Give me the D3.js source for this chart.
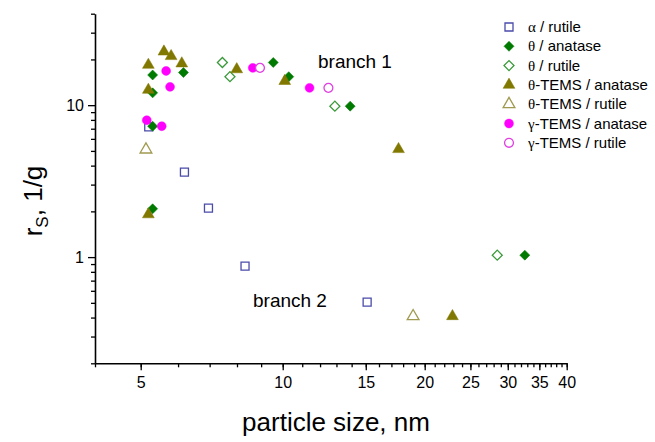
<!DOCTYPE html>
<html>
<head>
<meta charset="utf-8">
<style>
  body { margin: 0; background: #fff; }
  .chart text { font-family: "Liberation Sans", Arial, sans-serif; fill: #000; }
  .greek { font-family: "Liberation Serif", "DejaVu Serif", serif; }
</style>
</head>
<body>
<div class="chart"></div>
<script src="https://d3js.org/d3.v7.min.js"></script>
<script>
  // particle size (nm) / r_S (1/g)
  const alphaRutileX = [5.20, 6.19, 6.96, 8.32, 15.1];
  const alphaRutileY = [7.19, 3.63, 2.10, 0.872, 0.505];

  const thetaAnataseX = [5.30, 6.16, 5.30, 5.30, 9.55, 10.3, 5.30, 13.9, 32.6];
  const thetaAnataseY = [15.8, 16.4, 12.05, 7.27, 19.1, 15.4, 2.08, 9.85, 1.03];

  const thetaRutileX = [7.45, 7.73, 12.9, 28.5];
  const thetaRutileY = [19.1, 15.4, 9.85, 1.03];

  const temsAnataseX = [5.19, 5.60, 5.80, 6.11, 5.19, 7.99, 10.1, 17.6, 22.9, 5.19];
  const temsAnataseY = [18.4, 22.5, 21.0, 18.8, 12.6, 17.2, 14.4, 5.13, 0.408, 1.91];

  const temsRutileX = [5.13, 18.9];
  const temsRutileY = [5.1, 0.408];

  const gammaAnataseX = [5.66, 5.77, 5.15, 5.54, 8.64, 11.4];
  const gammaAnataseY = [16.8, 13.2, 7.96, 7.27, 17.6, 13.0];

  const gammaRutileX = [8.95, 12.5];
  const gammaRutileY = [17.6, 13.0];

  const xTickLabels = [5, 10, 15, 20, 25, 30, 35, 40];
  const yTickLabels = [1, 10];

  const series = [
    { greek: 'α', rest: ' / rutile', xs: alphaRutileX, ys: alphaRutileY, shape: 'square', color: '#4b4baa', filled: false },
    { greek: 'θ', rest: ' / anatase', xs: thetaAnataseX, ys: thetaAnataseY, shape: 'diamond', color: '#007a00', filled: true },
    { greek: 'θ', rest: ' / rutile', xs: thetaRutileX, ys: thetaRutileY, shape: 'diamond', color: '#3a9a3a', filled: false },
    { greek: 'θ', rest: '-TEMS / anatase', xs: temsAnataseX, ys: temsAnataseY, shape: 'triangle', color: '#807800', filled: true },
    { greek: 'θ', rest: '-TEMS / rutile', xs: temsRutileX, ys: temsRutileY, shape: 'triangle', color: '#a09a50', filled: false },
    { greek: 'γ', rest: '-TEMS / anatase', xs: gammaAnataseX, ys: gammaAnataseY, shape: 'circle', color: '#ff00ff', filled: true },
    { greek: 'γ', rest: '-TEMS / rutile', xs: gammaRutileX, ys: gammaRutileY, shape: 'circle', color: '#e040e0', filled: false }
  ];

  const width = 655, height = 442;
  const svg = d3.select('.chart').append('svg')
    .attr('width', width)
    .attr('height', height);

  const xScale = d3.scaleLog().domain([4, 40]).range([95, 566.7]);
  const yScale = d3.scaleLog().domain([0.2, 40]).range([363.3, 13.7]);

  // minor ticks at each integer step
  const xMinor = d3.range(4, 41);
  const yMinor = d3.range(2, 10).map(d => d / 10)
    .concat(d3.range(2, 10), [20, 30, 40]);

  svg.append('g')
    .attr('transform', `translate(0,${yScale.range()[0]})`)
    .call(d3.axisBottom(xScale).tickValues(xMinor).tickSize(4).tickSizeOuter(0).tickFormat(''))
    .call(g => g.select('.domain').remove());
  svg.append('g')
    .attr('transform', `translate(${xScale.range()[0]},0)`)
    .call(d3.axisLeft(yScale).tickValues(yMinor).tickSize(4).tickSizeOuter(0).tickFormat(''))
    .call(g => g.select('.domain').remove());

  const xAxis = svg.append('g')
    .attr('transform', `translate(0,${yScale.range()[0]})`)
    .call(d3.axisBottom(xScale).tickValues(xTickLabels).tickSize(7).tickSizeOuter(0).tickPadding(6).tickFormat(d3.format('d')));
  const yAxis = svg.append('g')
    .attr('transform', `translate(${xScale.range()[0]},0)`)
    .call(d3.axisLeft(yScale).tickValues(yTickLabels).tickSize(7).tickSizeOuter(0).tickPadding(4).tickFormat(d3.format('d')));

  svg.selectAll('.tick line').attr('stroke', '#000').attr('stroke-width', 1.3);
  svg.selectAll('.domain').attr('stroke', '#000').attr('stroke-width', 1.6);
  svg.selectAll('.tick text').style('font-size', '16px').style('font-family', '"Liberation Sans", Arial, sans-serif');

  // axis titles
  svg.append('text')
    .attr('x', 336).attr('y', 431)
    .attr('text-anchor', 'middle')
    .style('font-size', '26px')
    .text('particle size, nm');

  const yTitle = svg.append('text')
    .attr('transform', 'translate(42,201) rotate(-90)')
    .attr('text-anchor', 'middle')
    .style('font-size', '26px');
  yTitle.append('tspan').text('r');
  yTitle.append('tspan').attr('dy', 6).style('font-size', '17px').text('S');
  yTitle.append('tspan').attr('dy', -6).text(', 1/g');

  // annotations
  svg.append('text').attr('x', 318).attr('y', 68).style('font-size', '19px').text('branch 1');
  svg.append('text').attr('x', 253).attr('y', 307).style('font-size', '19px').text('branch 2');

  function markerPath(shape) {
    if (shape === 'square') return d3.symbol(d3.symbolSquare, 64)();
    if (shape === 'diamond') return d3.symbol(d3.symbolSquare, 50)();
    if (shape === 'triangle') return d3.symbol(d3.symbolTriangle, 60)();
    return d3.symbol(d3.symbolCircle, 62)();
  }

  function drawMarker(sel, s) {
    sel.attr('d', markerPath(s.shape))
      .attr('fill', s.filled ? s.color : '#fff')
      .attr('stroke', s.color)
      .attr('stroke-width', s.filled ? 0.5 : 1.3);
  }

  series.forEach(s => {
    const pts = s.xs.map((x, i) => [x, s.ys[i]]);
    svg.append('g').selectAll('path')
      .data(pts)
      .join('path')
      .attr('transform', d => `translate(${xScale(d[0])},${yScale(d[1])})` + (s.shape === 'diamond' ? ' rotate(45)' : ''))
      .call(drawMarker, s);
  });

  // legend
  const legend = svg.append('g');
  series.forEach((s, i) => {
    const y = 27 + i * 19.3;
    legend.append('path')
      .attr('transform', `translate(509,${y})` + (s.shape === 'diamond' ? ' rotate(45)' : ''))
      .call(drawMarker, s);
    const t = legend.append('text')
      .attr('x', 528).attr('y', y + 5)
      .style('font-size', '15px');
    t.append('tspan').attr('class', 'greek').text(s.greek);
    t.append('tspan').text(s.rest);
  });
</script>
</body>
</html>
